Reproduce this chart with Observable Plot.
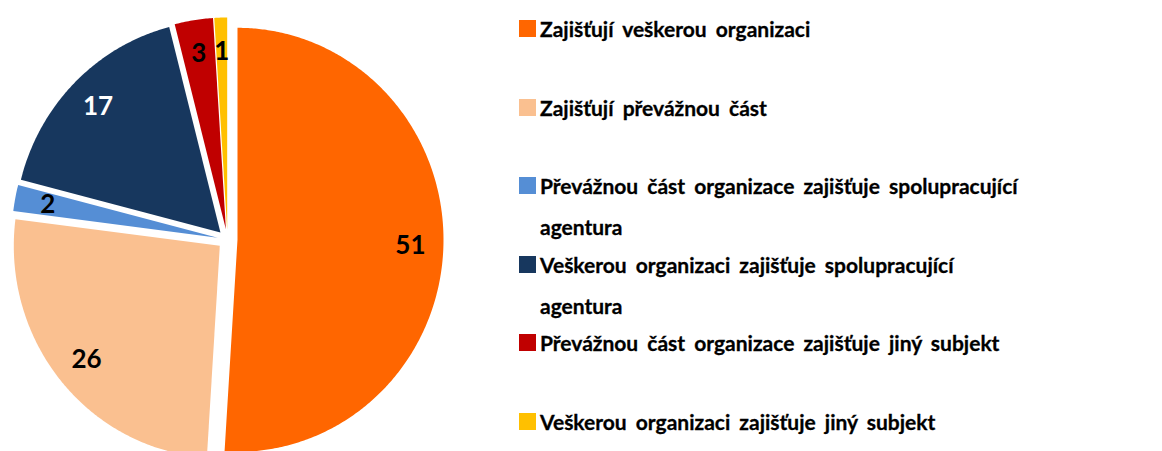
<!DOCTYPE html>
<html>
<head>
<meta charset="utf-8">
<script src="https://cdn.jsdelivr.net/npm/d3@7"></script>
<script src="https://cdn.jsdelivr.net/npm/@observablehq/plot@0.6"></script>
<style>
  html, body { margin: 0; padding: 0; background: #fff; }
  #wrap { position: relative; width: 1162px; height: 451px; overflow: hidden; font-family: Lato, "Open Sans", sans-serif; }
  #chart { position: absolute; left: 0; top: 0; }
  .item { position: absolute; left: 519px; display: flex; align-items: flex-start; }
  .sw { width: 17px; height: 17px; margin-top: 12px; flex: none; }
  .lab { margin-left: 4px; font-size: 21px; font-weight: 700; line-height: 41px; color: #000; width: 500px; word-spacing: 4px; -webkit-text-stroke: 0.3px #000; }
</style>
</head>
<body>
<div id="wrap"><div id="chart"></div><div id="legend"></div></div>
<script>
const categories = [
  "Zajišťují veškerou organizaci",
  "Zajišťují převážnou část",
  "Převážnou část organizace zajišťuje spolupracující agentura",
  "Veškerou organizaci zajišťuje spolupracující agentura",
  "Převážnou část organizace zajišťuje jiný subjekt",
  "Veškerou organizaci zajišťuje jiný subjekt"
];
const values = [51, 26, 2, 17, 3, 1];
const colors = ["#FF6600", "#FAC090", "#558ED5", "#17375E", "#C00000", "#FFC000"];
const labelColors = ["black", "black", "black", "white", "black", "black"];

// layout (pixels)
const W = 500, H = 451, cx = 227, cy = 239, Rx = 206, Ry = 212, explodePx = 10, labelR = 0.84;

const total = d3.sum(values);
let acc = 0;
const slices = values.map((v, i) => {
  const a0 = acc / total * 2 * Math.PI;
  acc += v;
  const a1 = acc / total * 2 * Math.PI;
  const mid = (a0 + a1) / 2;
  return {name: categories[i], value: v, a0, a1, mid,
    ox: explodePx / Rx * Math.sin(mid), oy: explodePx / Ry * Math.cos(mid), lc: labelColors[i]};
});

const pts = [];
for (const s of slices) {
  pts.push({name: s.name, x: s.ox, y: s.oy});
  const n = Math.max(4, Math.ceil((s.a1 - s.a0) / (Math.PI / 360)));
  for (let k = 0; k <= n; k++) {
    const t = s.a0 + (s.a1 - s.a0) * k / n;
    pts.push({name: s.name, x: s.ox + Math.sin(t), y: s.oy + Math.cos(t)});
  }
  pts.push({name: s.name, x: s.ox, y: s.oy});
}
const labels = slices.map(s => ({text: String(s.value), lc: s.lc,
  x: s.ox + labelR * Math.sin(s.mid), y: s.oy + labelR * Math.cos(s.mid)}));

const textOpts = {x: "x", y: "y", text: "text", fontSize: 26, fontWeight: "bold", fontFamily: "Lato, sans-serif"};
const plot = Plot.plot({
  width: W, height: H, margin: 0,
  style: {background: "transparent"},
  x: {domain: [-cx / Rx, (W - cx) / Rx], range: [0, W], axis: null},
  y: {domain: [-(H - cy) / Ry, cy / Ry], range: [H, 0], axis: null},
  color: {domain: categories, range: colors},
  marks: [
    Plot.line(pts, {x: "x", y: "y", z: "name", fill: "name", stroke: "none", curve: "linear"}),
    Plot.text(labels.filter(d => d.lc === "black"), {...textOpts, fill: "black"}),
    Plot.text(labels.filter(d => d.lc === "white"), {...textOpts, fill: "white"})
  ]
});
document.getElementById("chart").append(plot);

const legend = d3.select("#legend");
categories.forEach((c, i) => {
  const item = legend.append("div").attr("class", "item").style("top", (8 + 78.6 * i) + "px");
  item.append("div").attr("class", "sw").style("background", colors[i]);
  item.append("div").attr("class", "lab").text(c);
});
</script>
</body>
</html>
